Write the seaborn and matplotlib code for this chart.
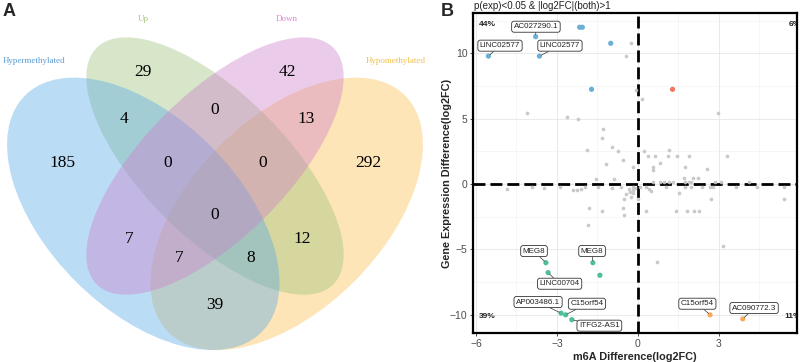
import numpy as np
import pandas as pd
import matplotlib
matplotlib.use("Agg")
import matplotlib.pyplot as plt
import seaborn as sns
from matplotlib.patches import Ellipse

## Panel A: 4-set Venn of m6A status vs expression direction
## Panel B: m6A log2FC vs expression log2FC quadrant plot

# ---------------- data: Venn ----------------
set_names = ["Hypermethylated", "Up", "Down", "Hypomethylated"]
region_names = ["Hyper", "Up", "Down", "Hypo",
                "Hyper&Up", "Up&Down", "Down&Hypo",
                "Hyper&Up&Down", "Up&Down&Hypo", "All",
                "Hyper&Down", "Up&Hypo", "Hyper&Down&Hypo", "Hyper&Up&Hypo",
                "Hyper&Hypo"]
region_counts = [185, 29, 42, 292, 4, 0, 13, 0, 0, 0, 7, 12, 7, 8, 39]

# ---------------- data: scatter ----------------
ns_x = [-0.27, -0.44, -0.07, 0.14, 2.96, -4.10, -2.64, -2.21, -1.28, -1.35,
        -0.98, -1.90, -0.73, -0.57, -1.20, -0.17, 0.22, 0.38, 0.63, 1.16,
        1.11, 1.46, 1.88, 3.31, 0.81, 0.54, 0.54, 1.74, 2.57, 1.70,
        2.05, 2.23, -1.56, -0.89,
        0.57, 0.81, 0.96, 1.16, 1.31, 1.74, 1.90, 1.98, 2.84, 3.09, 4.11,
        0.07, 0.30, 1.04, 1.74, 1.98, 2.36, 2.67, 2.77, 3.63, 4.42, 5.41,
        0.42, 0.47, 1.53, 2.70, 5.41, -0.20, -0.20, -0.20,
        -4.86, -3.94, -3.48, -2.89, -2.40, -2.27, -2.11, -1.96, -1.49, -0.98,
        -0.64, -0.44, -0.32, -0.28, -0.25, -0.12,
        -1.81, -0.57, -1.84, -1.32, -0.51, -0.51, 0.01, 0.30, 1.40, 1.83,
        2.07, 2.25, 3.16, 0.69]
ns_y = [10.77, 9.80, 7.20, 6.48, 5.46, 5.46, 5.10, 4.98, 4.18, 3.55,
        2.85, 2.64, 2.54, 1.82, 1.57, 1.34, 2.54, 2.16, 2.14, 2.64,
        2.14, 2.14, 2.16, 2.16, 1.60, 1.30, 1.10, 1.34, 1.12, 0.45,
        0.45, 0.45, 0.37, 0.42,
        0.19, 0.19, 0.19, 0.19, 0.19, 0.19, 0.19, 0.19, 0.19, 0.19, 0.19,
        -0.19, -0.19, -0.19, -0.19, -0.19, -0.19, -0.19, -0.19, -0.19, -0.19, -0.19,
        -0.39, -0.57, -0.70, -1.13, -1.13, -0.20, -0.45, -0.65,
        -0.39, -0.19, -0.31, -0.19, -0.43, -0.43, -0.40, -0.19, -0.19, -0.31,
        -0.20, -0.80, -0.35, -0.60, -1.00, -0.30,
        -1.85, -1.85, -3.12, -2.05, -2.35, -1.15, -1.15, -2.05, -2.10, -2.05,
        -2.05, -2.05, -4.78, -6.00]

up_hyper_x = [-5.54, -3.79, -3.65, -2.16, -2.06, -1.01, -1.72]
up_hyper_y = [9.79, 11.28, 9.79, 12.00, 12.00, 10.77, 7.25]
up_hypo_x = [1.28]
up_hypo_y = [7.25]
down_hyper_x = [-3.41, -3.33, -1.67, -1.41, -2.85, -2.68, -2.45]
down_hyper_y = [-6.02, -6.78, -6.02, -6.98, -9.88, -10.01, -10.38]
down_hypo_x = [2.67, 3.88]
down_hypo_y = [-10.01, -10.32]

gene_labels = ["LINC02577", "AC027290.1", "LINC02577",
               "MEG8", "LINC00704", "MEG8", "AP003486.1", "C15orf54", "ITFG2-AS1",
               "C15orf54", "AC090772.3"]
label_points = [(-5.54, 9.79), (-3.79, 11.28), (-3.65, 9.79),
                (-3.41, -6.02), (-3.33, -6.78), (-1.67, -6.02), (-2.85, -9.88),
                (-2.68, -10.01), (-2.45, -10.38), (2.67, -10.01), (3.88, -10.32)]
quad_labels = ["44%", "6%", "39%", "11%"]

# ---------------- layout / style ----------------
venn_fill = ["#56A9E8", "#9CC17A", "#CF7FCB", "#FDBF4F"]
venn_text = ["#5B9BD5", "#A9C47F", "#D986CE", "#F0C04E"]
# VennDiagram quad layout (unit square)
ell = [((0.35, 0.47), 0.70, 0.40, -45),
       ((0.50, 0.57), 0.70, 0.30, -45),
       ((0.50, 0.57), 0.70, 0.30, 45),
       ((0.65, 0.47), 0.70, 0.40, 45)]
draw_order = [3, 1, 0, 2]
region_pos = [(0.180, 0.576), (0.349, 0.767), (0.651, 0.767), (0.820, 0.576),
              (0.310, 0.668), (0.500, 0.687), (0.690, 0.668),
              (0.400, 0.576), (0.600, 0.576), (0.500, 0.467),
              (0.320, 0.417), (0.682, 0.417), (0.425, 0.378), (0.575, 0.378),
              (0.500, 0.279)]
set_pos = [(0.121, 0.790), (0.349, 0.878), (0.651, 0.878), (0.879, 0.790)]
label_text_pos = [(-5.11, 10.59), (-3.78, 12.04), (-2.89, 10.59),
                  (-3.85, -5.13), (-2.90, -7.63), (-1.70, -5.13), (-3.70, -9.03),
                  (-1.89, -9.16), (-1.43, -10.84), (2.20, -9.16), (4.30, -9.49)]
palette = {"NS": "#C4C4C4", "Up&Hyper": "#6BAED6", "Up&Hypo": "#F4735F",
           "Down&Hyper": "#4DBE9A", "Down&Hypo": "#F9A85C"}

sns.set_theme(style="white")
plt.rcParams['font.family'] = ['Liberation Sans', 'DejaVu Sans']

fig = plt.figure(figsize=(8, 3.62), dpi=100)

# ---------------- panel A ----------------
axA = fig.add_axes([-24 / 800, (362 - 438.5) / 362, 478 / 800, 478 / 362])
axA.set_xlim(0, 1)
axA.set_ylim(0, 1)
axA.axis("off")
for i in draw_order:
    (cx, cy), w, h, ang = ell[i]
    axA.add_patch(Ellipse((cx, cy), w, h, angle=ang, facecolor=venn_fill[i],
                          alpha=0.4, edgecolor="none", clip_on=False))
for name, (px, py), c in zip(set_names, set_pos, venn_text):
    axA.text(px, py, name, ha="center", va="center", fontsize=6.5, color=c,
             family="Liberation Serif")
for n, (px, py) in zip(region_counts, region_pos):
    axA.text(px, py, str(n), ha="center", va="center", fontsize=12.5,
             color="black", family="Liberation Serif")
fig.text(3 / 800, 1 - 11 / 362, "A", fontsize=13, fontweight="bold",
         ha="left", va="center")

# ---------------- panel B ----------------
df = pd.concat([
    pd.DataFrame({"x": ns_x, "y": ns_y, "group": "NS"}),
    pd.DataFrame({"x": up_hyper_x, "y": up_hyper_y, "group": "Up&Hyper"}),
    pd.DataFrame({"x": up_hypo_x, "y": up_hypo_y, "group": "Up&Hypo"}),
    pd.DataFrame({"x": down_hyper_x, "y": down_hyper_y, "group": "Down&Hyper"}),
    pd.DataFrame({"x": down_hypo_x, "y": down_hypo_y, "group": "Down&Hypo"}),
], ignore_index=True)

axB = fig.add_axes([473 / 800, 29 / 362, 324 / 800, 320 / 362])
sns.scatterplot(data=df[df["group"] == "NS"], x="x", y="y", color=palette["NS"],
                s=7, linewidth=0, alpha=0.9, ax=axB, legend=False, zorder=3)
sns.scatterplot(data=df[df["group"] != "NS"], x="x", y="y", hue="group",
                palette=palette, s=14, linewidth=0, ax=axB, legend=False, zorder=4)

axB.set_xlim(-6.11, 5.89)
axB.set_ylim(-11.4, 13.09)
axB.set_xticks([-6, -3, 0, 3])
axB.set_yticks([-10, -5, 0, 5, 10])
axB.set_xticks([-4.5, -1.5, 1.5, 4.5], minor=True)
axB.set_yticks([-7.5, -2.5, 2.5, 7.5, 12.5], minor=True)
axB.grid(True, which="major", color="#E6E6E6", lw=0.6, zorder=0)
axB.grid(True, which="minor", color="#F0F0F0", lw=0.4, zorder=0)
axB.set_axisbelow(True)
for sp in axB.spines.values():
    sp.set_color("black")
    sp.set_linewidth(1.6)
axB.tick_params(which="major", length=2.5, width=0.6, color="#333333",
                labelsize=7.5, labelcolor="#4D4D4D", pad=1.5,
                bottom=True, left=True)
axB.tick_params(which="minor", length=0)

axB.axhline(0, color="black", lw=2, dashes=(4.3, 1.8), zorder=2)
axB.axvline(0, color="black", lw=2, dashes=(4.3, 1.8), zorder=2)

for txt, (px, py), (tx, ty) in zip(gene_labels, label_points, label_text_pos):
    axB.annotate(txt, xy=(px, py), xytext=(tx, ty), ha="center", va="center",
                 fontsize=5.8, color="#222222", zorder=6,
                 bbox=dict(boxstyle="round,pad=0.25,rounding_size=0.3",
                           fc="white", ec="#333333", lw=0.6),
                 arrowprops=dict(arrowstyle="-", color="#333333", lw=0.5,
                                 shrinkA=0, shrinkB=1.5))

kw = dict(fontsize=6, fontweight="bold", transform=axB.transAxes, clip_on=True,
          zorder=7, color="#222222")
axB.text(0.018, 0.965, quad_labels[0], ha="left", va="center", **kw)
axB.text(1.012, 0.965, quad_labels[1], ha="right", va="center", **kw)
axB.text(0.018, 0.05, quad_labels[2], ha="left", va="center", **kw)
axB.text(1.012, 0.05, quad_labels[3], ha="right", va="center", **kw)

axB.set_xlabel("m6A Difference(log2FC)", fontsize=7.8, fontweight="bold")
axB.set_ylabel("Gene Expression Difference(log2FC)", fontsize=7.8,
               fontweight="bold")
axB.xaxis.set_label_coords(0.5, -0.075)
axB.xaxis.label.set_va("center")
axB.yaxis.set_label_coords(-0.08, 0.5)
axB.yaxis.label.set_va("center")

fig.text(474 / 800, 1 - 6 / 362, "p(exp)<0.05 & |log2FC|(both)>1",
         fontsize=7, ha="left", va="center", color="#222222")
fig.text(441 / 800, 1 - 11 / 362, "B", fontsize=13, fontweight="bold",
         ha="left", va="center")

fig.savefig("out.png", dpi=100)
